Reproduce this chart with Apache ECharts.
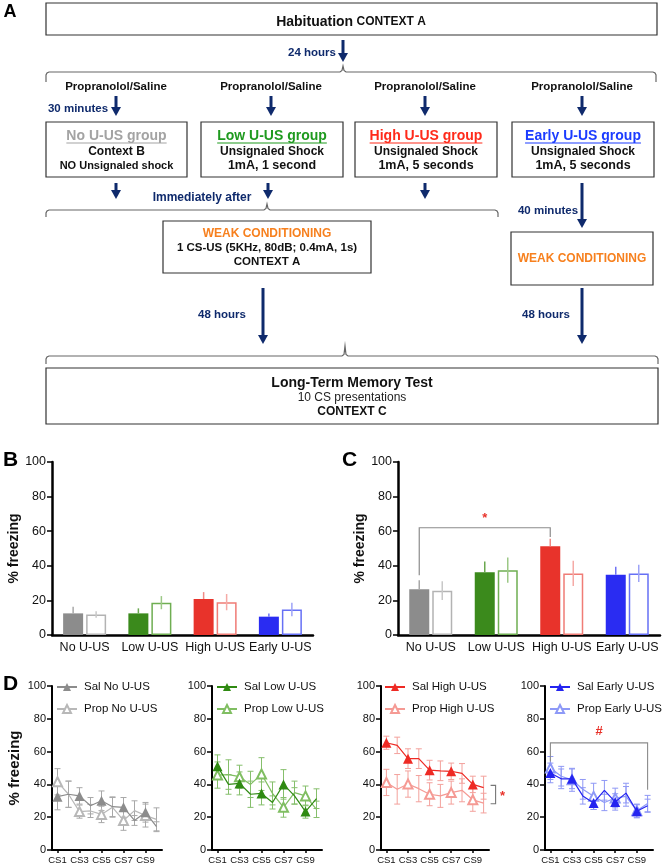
<!DOCTYPE html>
<html><head><meta charset="utf-8">
<script src="https://cdn.jsdelivr.net/npm/echarts@6/dist/echarts.min.js"></script>
<style>html,body{margin:0;padding:0;background:#fff}#c{width:662px;height:868px}</style>
</head><body><div id="c"></div><script>
// ---------------- DATA ----------------
const barCats = ['No U-US', 'Low U-US', 'High U-US', 'Early U-US'];
// Panel B
const bSal = [12.5, 12.5, 20.8, 10.6];
const bSalErr = [3.8, 2.9, 4.0, 1.9];
const bProp = [11.9, 18.7, 19.0, 14.8];
const bPropErr = [1.9, 3.8, 4.7, 3.9];
// Panel C
const cSal = [26.5, 36.2, 51.3, 34.8];
const cSalErr = [5.2, 6.3, 4.3, 4.6];
const cProp = [25.6, 37.5, 35.6, 35.6];
const cPropErr = [5.4, 7.3, 7.3, 5.0];
// Panel D
const csLabels = ['CS1','CS2','CS3','CS4','CS5','CS6','CS7','CS8','CS9','CS10'];
const noSal = [32.5, 34, 33, 27, 30, 26.4, 26, 18, 23, 14.2];
const noSalErr = [8, 8, 5, 5, 6, 6, 6, 3, 6, 3];
const noProp = [41.6, 34, 23.4, 23.8, 21.7, 26, 18, 24, 21, 18.7];
const noPropErr = [8, 8, 4, 4, 5, 6, 6, 6, 7, 7];
const lowSal = [51, 40, 40.6, 34, 34.5, 29, 40, 33, 23.4, 31.3];
const lowSalErr = [7, 6, 7, 8, 7, 4, 9, 5, 4, 6];
const lowProp = [45.7, 46, 44.7, 40, 46.3, 34.5, 26, 35, 33, 24.8];
const lowPropErr = [8, 9, 7, 8, 10, 7, 6, 7, 6, 5];
const highSal = [65.4, 63.8, 55.7, 55.7, 48.7, 48.3, 48, 46.7, 40, 38];
const highSalErr = [4, 5, 6, 6, 6, 6, 5, 6, 5, 7];
const highProp = [41.2, 37, 40.2, 37.4, 34, 33, 35, 36.4, 30.6, 28.6];
const highPropErr = [8, 9, 8, 8, 7, 7, 7, 7, 7, 6];
const earlySal = [47, 43.4, 43.4, 33, 28.7, 36.4, 29.3, 34.7, 23.6, 27];
const earlySalErr = [6, 6, 6, 5, 4, 6, 5, 6, 4, 4];
const earlyProp = [50, 45, 42.8, 37, 32.7, 29, 31.7, 32.7, 24, 28.3];
const earlyPropErr = [7, 6, 7, 6, 8, 5, 6, 6, 4, 5];
// significance brackets: [fromIndex, toIndex, top, leftEnd, rightEnd]
const cBracket = [0, 2, 62, 34.6, 56.7];
const d3Bracket = [9, 39.4, 28.2];       // [index, top, bottom]
const d4Bracket = [0, 9, 65.3, 54, 36.8];
const yTicks = [0, 20, 40, 60, 80, 100];

// ---------------- STYLE ----------------
const SANS = "'Liberation Sans', Arial, Helvetica, sans-serif";
const NARROW = "'Liberation Sans Narrow', 'Liberation Sans', Arial, sans-serif";
const NAVY = '#0f2a6c';
const salCol = ['#8c8c8c', '#3b8a1c', '#e8332b', '#2a2cf2'];
const salErrCol = ['#a8a8a8', '#6aa84f', '#f08a85', '#6f72f5'];
const propCol = ['#b3b3b3', '#6fae52', '#f07c76', '#6670f5'];
const propErrCol = ['#c8c8c8', '#9cc886', '#f5aaa6', '#9da3f7'];
const lineSal = ['#8c8c8c', '#2f8a12', '#ee2a24', '#2424f0'];
const lineProp = ['#b8b8b8', '#80be62', '#f59a94', '#8d99f7'];
const lineErr = ['#a8a8a8', '#86bf6c', '#f3a19c', '#8f98f5'];

// ---------------- PANEL A (flowchart) ----------------
const G = [];
function T(x, y, text, font, fill, align) {
  G.push({type:'text', x:x, y:y, z:5, style:{text:text, font:font, fill:fill||'#111',
    align:align||'center', textAlign:align||'center', verticalAlign:'middle', textVerticalAlign:'middle'}});
}
function R(x1, y1, x2, y2) {
  G.push({type:'rect', z:1, shape:{x:x1, y:y1, width:x2-x1, height:y2-y1},
    style:{fill:'#fff', stroke:'#333', lineWidth:1.2}});
}
function ARW(x, y1, y2) {
  G.push({type:'line', z:3, shape:{x1:x, y1:y1, x2:x, y2:y2-7}, style:{stroke:NAVY, lineWidth:3}});
  G.push({type:'polygon', z:3, shape:{points:[[x-5, y2-9], [x+5, y2-9], [x, y2]]}, style:{fill:NAVY}});
}
function BRACE(xa, xb, xt, y, yt, ye) {
  G.push({type:'polyline', z:2, shape:{points:[[xa, ye], [xa, y+3], [xa+1, y+1], [xa+3, y], [xt-3, y], [xt-1, y-1.5], [xt, yt],
    [xt+1, y-1.5], [xt+3, y], [xb-3, y], [xb-1, y+1], [xb, y+3], [xb, ye]]},
    style:{stroke:'#666', lineWidth:1.2, fill:null}});
}
const mctx = document.createElement('canvas').getContext('2d');
function UL(x, y, text, font, color) {
  T(x, y, text, font, color);
  mctx.font = font;
  const w = mctx.measureText(text).width;
  G.push({type:'line', z:5, shape:{x1:x-w/2, y1:y+7, x2:x+w/2, y2:y+7}, style:{stroke:color, lineWidth:1.2}});
}

T(10, 12, 'A', 'bold 18px ' + SANS, '#000');
R(46, 3, 657, 35);
G.push({type:'text', x:351, y:22, z:5, style:{text:'{a|Habituation} {b|CONTEXT A}',
  align:'center', textAlign:'center', verticalAlign:'middle', textVerticalAlign:'middle',
  rich:{a:{font:'bold 14px ' + NARROW, fill:'#111'}, b:{font:'bold 12px ' + NARROW, fill:'#111'}}}});
ARW(343, 40, 62);
T(312, 53, '24 hours', 'bold 11.5px ' + NARROW, NAVY);
BRACE(46, 656, 343, 72, 66, 82);
const colX = [116, 271, 425, 582];
colX.forEach(function (x) { T(x, 87, 'Propranolol/Saline', 'bold 11.5px ' + NARROW, '#111'); ARW(x, 96, 116); });
T(78, 109, '30 minutes', 'bold 11.5px ' + NARROW, NAVY);
const boxX = [[46, 187], [201, 343], [355, 497], [512, 654]];
boxX.forEach(function (b) { R(b[0], 122, b[1], 177); });
const titles = ['No U-US group', 'Low U-US group', 'High U-US group', 'Early U-US group'];
const titleCol = ['#a3a3a3', '#1f9a1f', '#ff2a1a', '#1c3cff'];
const line2 = ['Context B', 'Unsignaled Shock', 'Unsignaled Shock', 'Unsignaled Shock'];
const line3 = ['NO Unsignaled shock', '1mA, 1 second', '1mA, 5 seconds', '1mA, 5 seconds'];
boxX.forEach(function (b, i) {
  const cx = (b[0] + b[1]) / 2;
  UL(cx, 136, titles[i], 'bold 14px ' + NARROW, titleCol[i]);
  T(cx, 152, line2[i], 'bold 12px ' + NARROW, '#111');
  T(cx, 166, line3[i], (i === 0 ? 'bold 11px ' : 'bold 12.5px ') + NARROW, '#111');
});
ARW(116, 183, 199);
ARW(268, 183, 199);
ARW(425, 183, 199);
ARW(582, 183, 228);
T(202, 198, 'Immediately after', 'bold 12px ' + NARROW, NAVY);
T(548, 211, '40 minutes', 'bold 11.5px ' + NARROW, NAVY);
BRACE(46, 498, 267, 210, 204, 217);
R(163, 221, 371, 273);
T(267, 234, 'WEAK CONDITIONING', 'bold 12px ' + SANS, '#f7801e');
T(267, 248, '1 CS-US (5KHz, 80dB; 0.4mA, 1s)', 'bold 11.5px ' + SANS, '#111');
T(267, 262, 'CONTEXT A', 'bold 11.5px ' + SANS, '#111');
R(511, 232, 653, 285);
T(582, 259, 'WEAK CONDITIONING', 'bold 12px ' + SANS, '#f7801e');
ARW(263, 288, 344);
ARW(582, 288, 344);
T(222, 315, '48 hours', 'bold 11.5px ' + NARROW, NAVY);
T(546, 315, '48 hours', 'bold 11.5px ' + NARROW, NAVY);
BRACE(46, 658, 345, 356, 346, 364);
R(46, 368, 658, 424);
T(352, 383, 'Long-Term Memory Test', 'bold 14px ' + SANS, '#111');
T(352, 398, '10 CS presentations', '12px ' + SANS, '#222');
T(352, 412, 'CONTEXT C', 'bold 12px ' + SANS, '#111');
// panel letters
T(3, 460, 'B', 'bold 21px ' + SANS, '#000', 'left');
T(342, 460, 'C', 'bold 21px ' + SANS, '#000', 'left');
T(3, 684, 'D', 'bold 21px ' + SANS, '#000', 'left');

// ---------------- CHARTS ----------------
const grids = [
  {left:52, top:462, width:261, height:173},
  {left:398, top:462, width:262, height:173},
  {left:52, top:686, width:110, height:164},
  {left:212, top:686, width:110, height:164},
  {left:381, top:686, width:108, height:164},
  {left:545, top:686, width:108, height:164}
];
const xAxes = [], yAxes = [];
for (let k = 0; k < 6; k++) {
  const isBar = k < 2;
  xAxes.push({type:'category', gridIndex:k, data: isBar ? barCats : csLabels, boundaryGap:true,
    axisLine:{lineStyle:{color:'#000', width: isBar ? 2.5 : 2}},
    axisTick: isBar ? {show:false} : {show:true, interval:1, alignWithLabel:true, length:3, lineStyle:{color:'#000', width:1.5}},
    axisLabel: isBar ? {fontSize:12.5, color:'#111', fontFamily:SANS, margin:6, interval:0}
                     : {fontSize:9.5, color:'#111', fontFamily:SANS, margin:5, interval:1}});
  yAxes.push({type:'value', gridIndex:k, min:yTicks[0], max:yTicks[yTicks.length-1], interval:20,
    splitLine:{show:false},
    axisLine:{show:true, lineStyle:{color:'#000', width: isBar ? 2.5 : 2}},
    axisTick:{show:true, length:5, lineStyle:{color:'#000', width:1.5}},
    axisLabel:{fontSize: isBar ? 12.5 : 11, color:'#111', fontFamily:SANS, margin:6},
    name: (k < 3) ? '% freezing' : '', nameLocation:'middle', nameGap: isBar ? 31 : 30,
    nameTextStyle:{fontSize: isBar ? 14 : 15, fontWeight:'bold', color:'#111', fontFamily:SANS}});
}

const BW = 20, BGAP = 3;
const OFF = BW / 2 + BGAP / 2;
function barErr(offset, cols, upperOnly) {
  return function (params, api) {
    const i = api.value(0), m = api.value(1), e = api.value(2);
    const t = api.coord([i, m + e]), b = api.coord([i, upperOnly ? m : m - e]);
    const x = t[0] + offset;
    return {type:'line', shape:{x1:x, y1:t[1], x2:x, y2:b[1]}, style:{stroke:cols[i], lineWidth:1.5}};
  };
}
function capErr(col) {
  return function (params, api) {
    const i = api.value(0), m = api.value(1), e = api.value(2);
    const t = api.coord([i, m + e]), b = api.coord([i, m - e]);
    const x = t[0], w = 3;
    const st = {stroke:col, lineWidth:1};
    return {type:'group', children:[
      {type:'line', shape:{x1:x, y1:t[1], x2:x, y2:b[1]}, style:st},
      {type:'line', shape:{x1:x-w, y1:t[1], x2:x+w, y2:t[1]}, style:st},
      {type:'line', shape:{x1:x-w, y1:b[1], x2:x+w, y2:b[1]}, style:st}]};
  };
}
const series = [];
function barPanel(k, sal, salErr, prop, propErr) {
  series.push({type:'bar', xAxisIndex:k, yAxisIndex:k, barWidth:BW, barGap:(BGAP / BW * 100) + '%', z:2,
    data: sal.map(function (v, i) { return {value:v, itemStyle:{color:salCol[i]}}; })});
  series.push({type:'bar', xAxisIndex:k, yAxisIndex:k, barWidth:BW, z:2,
    data: prop.map(function (v, i) { return {value:v, itemStyle:{color:'#fff', borderColor:propCol[i], borderWidth:1.5}}; })});
  series.push({type:'custom', xAxisIndex:k, yAxisIndex:k, z:3, renderItem: barErr(-OFF, salErrCol, true),
    encode:{x:0, y:1}, data: sal.map(function (v, i) { return [i, v, salErr[i]]; })});
  series.push({type:'custom', xAxisIndex:k, yAxisIndex:k, z:3, renderItem: barErr(OFF, propErrCol, false),
    encode:{x:0, y:1}, data: prop.map(function (v, i) { return [i, v, propErr[i]]; })});
}
barPanel(0, bSal, bSalErr, bProp, bPropErr);
barPanel(1, cSal, cSalErr, cProp, cPropErr);
// C bracket
series.push({type:'custom', xAxisIndex:1, yAxisIndex:1, z:4, encode:{x:0, y:2}, data:[cBracket],
  renderItem: function (params, api) {
    const a = api.coord([api.value(0), api.value(2)]), b = api.coord([api.value(1), api.value(2)]);
    const la = api.coord([api.value(0), api.value(3)]), rb = api.coord([api.value(1), api.value(4)]);
    const xa = a[0] - OFF, xb = b[0] - OFF;
    return {type:'group', children:[
      {type:'polyline', shape:{points:[[xa, la[1]], [xa, a[1]], [xb, b[1]], [xb, rb[1]]]}, style:{stroke:'#8c8c8c', lineWidth:1.2, fill:null}},
      {type:'text', x:(xa + xb) / 2, y:a[1] - 9, style:{text:'*', fill:'#e8332b', font:'bold 13px ' + SANS, align:'center', verticalAlign:'middle'}}]};
  }});

const dNames = [['Sal No U-US', 'Prop No U-US'], ['Sal Low U-US', 'Prop Low U-US'],
                ['Sal High U-US', 'Prop High U-US'], ['Sal Early U-US', 'Prop Early U-US']];
const dData = [[noSal, noSalErr, noProp, noPropErr], [lowSal, lowSalErr, lowProp, lowPropErr],
               [highSal, highSalErr, highProp, highPropErr], [earlySal, earlySalErr, earlyProp, earlyPropErr]];
const legends = [];
const legLeft = [56, 216, 384, 549];
dData.forEach(function (d, j) {
  const k = j + 2;
  series.push({type:'custom', xAxisIndex:k, yAxisIndex:k, z:1, renderItem:capErr(lineErr[j]), encode:{x:0, y:1},
    data: d[2].map(function (v, i) { return [i, v, d[3][i]]; })});
  series.push({type:'custom', xAxisIndex:k, yAxisIndex:k, z:1, renderItem:capErr(lineErr[j]), encode:{x:0, y:1},
    data: d[0].map(function (v, i) { return [i, v, d[1][i]]; })});
  series.push({name:dNames[j][1], type:'line', xAxisIndex:k, yAxisIndex:k, z:2, data:d[2],
    symbol:'emptyTriangle', symbolSize:9, lineStyle:{color:lineProp[j], width:1.2},
    itemStyle:{color:lineProp[j], borderColor:lineProp[j], borderWidth:1.2}});
  series.push({name:dNames[j][0], type:'line', xAxisIndex:k, yAxisIndex:k, z:3, data:d[0],
    symbol:'triangle', symbolSize:10, lineStyle:{color:lineSal[j], width:1.2},
    itemStyle:{color:lineSal[j]}});
  legends.push({data:[dNames[j][0], dNames[j][1]], orient:'vertical', left:legLeft[j], top:681,
    itemWidth:20, itemHeight:10, itemGap:10, selectedMode:false, padding:0,
    textStyle:{fontSize:11.5, color:'#111', fontFamily:SANS, padding:[0, 0, 0, 2]}});
});
// D3 bracket
series.push({type:'custom', xAxisIndex:4, yAxisIndex:4, z:4, encode:{x:0, y:1}, data:[d3Bracket],
  renderItem: function (params, api) {
    const t = api.coord([api.value(0), api.value(1)]), b = api.coord([api.value(0), api.value(2)]);
    const x = t[0] + 12;
    return {type:'group', children:[
      {type:'polyline', shape:{points:[[x-5, t[1]], [x, t[1]], [x, b[1]], [x-5, b[1]]]}, style:{stroke:'#777', lineWidth:1.1, fill:null}},
      {type:'text', x:x + 7, y:(t[1] + b[1]) / 2 + 2, style:{text:'*', fill:'#e8332b', font:'bold 13px ' + SANS, align:'center', verticalAlign:'middle'}}]};
  }});
// D4 bracket
series.push({type:'custom', xAxisIndex:5, yAxisIndex:5, z:4, encode:{x:0, y:2}, data:[d4Bracket],
  renderItem: function (params, api) {
    const a = api.coord([api.value(0), api.value(2)]), b = api.coord([api.value(1), api.value(2)]);
    const la = api.coord([api.value(0), api.value(3)]), rb = api.coord([api.value(1), api.value(4)]);
    return {type:'group', children:[
      {type:'polyline', shape:{points:[[a[0], la[1]], [a[0], a[1]], [b[0], b[1]], [b[0], rb[1]]]}, style:{stroke:'#8c8c8c', lineWidth:1.1, fill:null}},
      {type:'text', x:(a[0] + b[0]) / 2, y:a[1] - 11, style:{text:'#', fill:'#e8332b', font:'bold 13px ' + SANS, align:'center', verticalAlign:'middle'}}]};
  }});

const chart = echarts.init(document.getElementById('c'), null, {renderer:'canvas'});
chart.setOption({
  animation:false,
  backgroundColor:'#fff',
  textStyle:{fontFamily:SANS},
  grid:grids, xAxis:xAxes, yAxis:yAxes, legend:legends, series:series,
  graphic:{elements:G}
});
</script></body></html>
